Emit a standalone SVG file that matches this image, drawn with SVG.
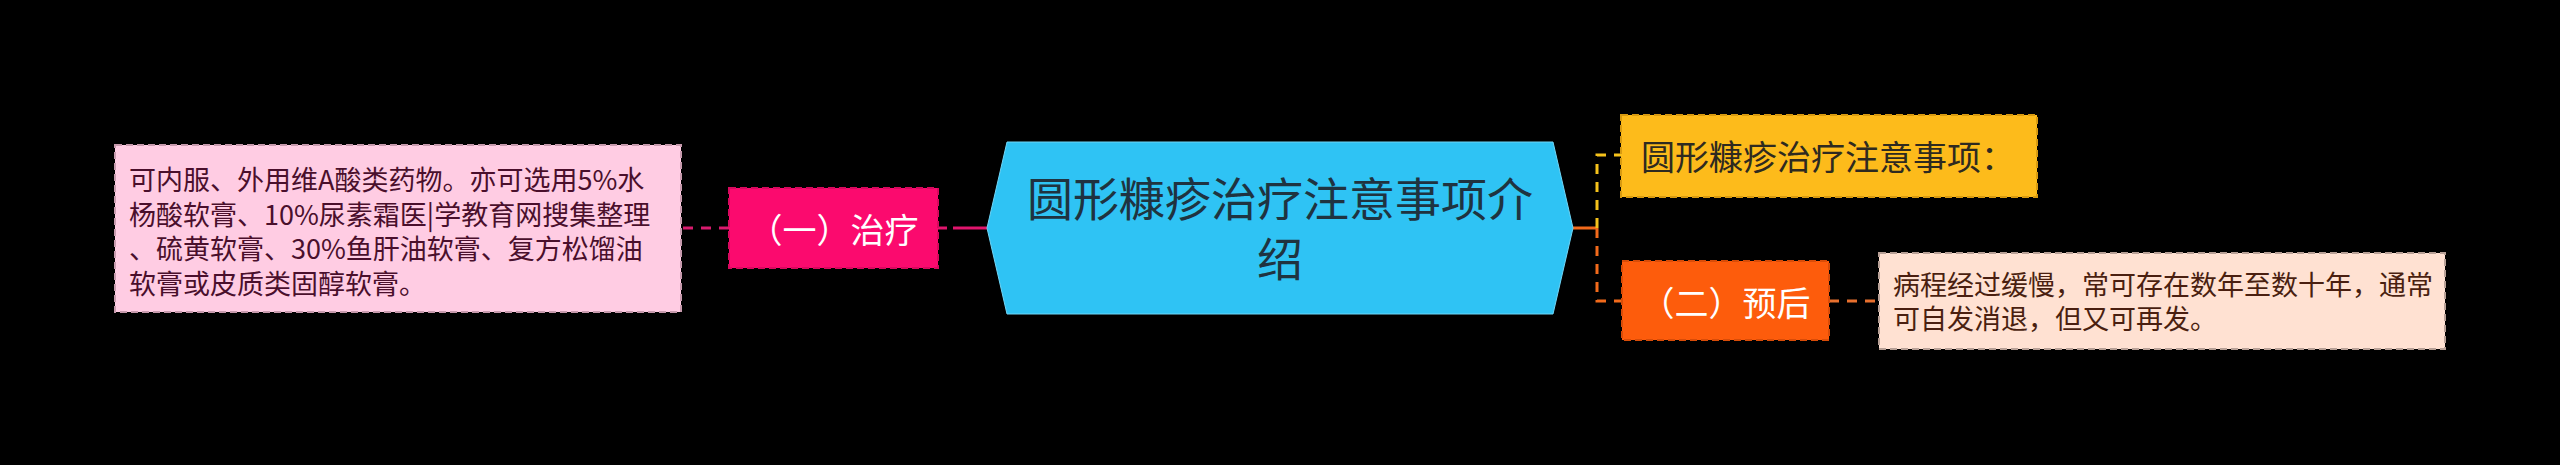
<svg xmlns="http://www.w3.org/2000/svg" width="2560" height="465" viewBox="0 0 2560 465">
<style>
text{font-family:"Noto Sans CJK SC","Noto Sans",sans-serif;}
.conn{fill:none;stroke-width:3;}
.dash{stroke-dasharray:10 8;}
.box{stroke-width:2;stroke-dasharray:7 4;}
.det{font-size:27px;}
.br{font-size:34px;fill:#ffffff;text-anchor:middle;}
</style>
<rect x="0" y="0" width="2560" height="465" fill="#000000"/>
<g id="connectors">
  <path class="conn dash" d="M729,228 H681" stroke="#d81b6e"/>
  <path class="conn" d="M987,228 H938" stroke="#e0156d" stroke-dasharray="34 6 10 100"/>
  <path class="conn" d="M1573,228 H1597" stroke="#f26a1b"/>
  <path class="conn dash" d="M1597,228 V155 H1621" stroke="#f5c21b"/>
  <path class="conn dash" d="M1597,228 V301 H1622" stroke="#f26a1b"/>
  <path class="conn dash" d="M1829,301 H1879" stroke="#e8702e"/>
</g>
<g id="center">
  <polygon points="987,228 1007,142 1553,142 1573,228 1553,314 1007,314" fill="#2fc3f4" stroke="#6fd6f8" stroke-width="1"/>
  <text x="1280" y="216" font-size="46" fill="#1f3340" text-anchor="middle">圆形糠疹治疗注意事项介</text>
  <text x="1280" y="276" font-size="46" fill="#1f3340" text-anchor="middle">绍</text>
</g>
<g id="node-treat">
  <rect class="box" x="729" y="188" width="209" height="80" fill="#fb0a6e" stroke="#d8085e"/>
  <text class="br" x="833.5" y="243">（一）治疗</text>
</g>
<g id="node-treat-detail">
  <rect class="box" x="115" y="145" width="566" height="167" fill="#ffcce3" stroke="#c79aad"/>
  <text class="det" fill="#4a0f2c" x="129" y="190">可内服、外用维A酸类药物。亦可选用5%水</text>
  <text class="det" fill="#4a0f2c" x="129" y="224.5">杨酸软膏、10%尿素霜医|学教育网搜集整理</text>
  <text class="det" fill="#4a0f2c" x="129" y="259">、硫黄软膏、30%鱼肝油软膏、复方松馏油</text>
  <text class="det" fill="#4a0f2c" x="129" y="293.5">软膏或皮质类固醇软膏。</text>
</g>
<g id="node-notes">
  <rect class="box" x="1621" y="115" width="416" height="82" fill="#fdbb1b" stroke="#d89a10"/>
  <text x="1641" y="170" font-size="34" fill="#2e2a20">圆形糠疹治疗注意事项：</text>
</g>
<g id="node-prognosis">
  <rect class="box" x="1622" y="261" width="207" height="79" fill="#fd5c0c" stroke="#d84c08"/>
  <text class="br" x="1725.5" y="315.5">（二）预后</text>
</g>
<g id="node-prognosis-detail">
  <rect class="box" x="1879" y="253" width="566" height="96" fill="#ffe1d2" stroke="#b8a096"/>
  <text class="det" fill="#4a1f10" x="1893" y="295">病程经过缓慢，常可存在数年至数十年，通常</text>
  <text class="det" fill="#4a1f10" x="1893" y="329">可自发消退，但又可再发。</text>
</g>
</svg>
